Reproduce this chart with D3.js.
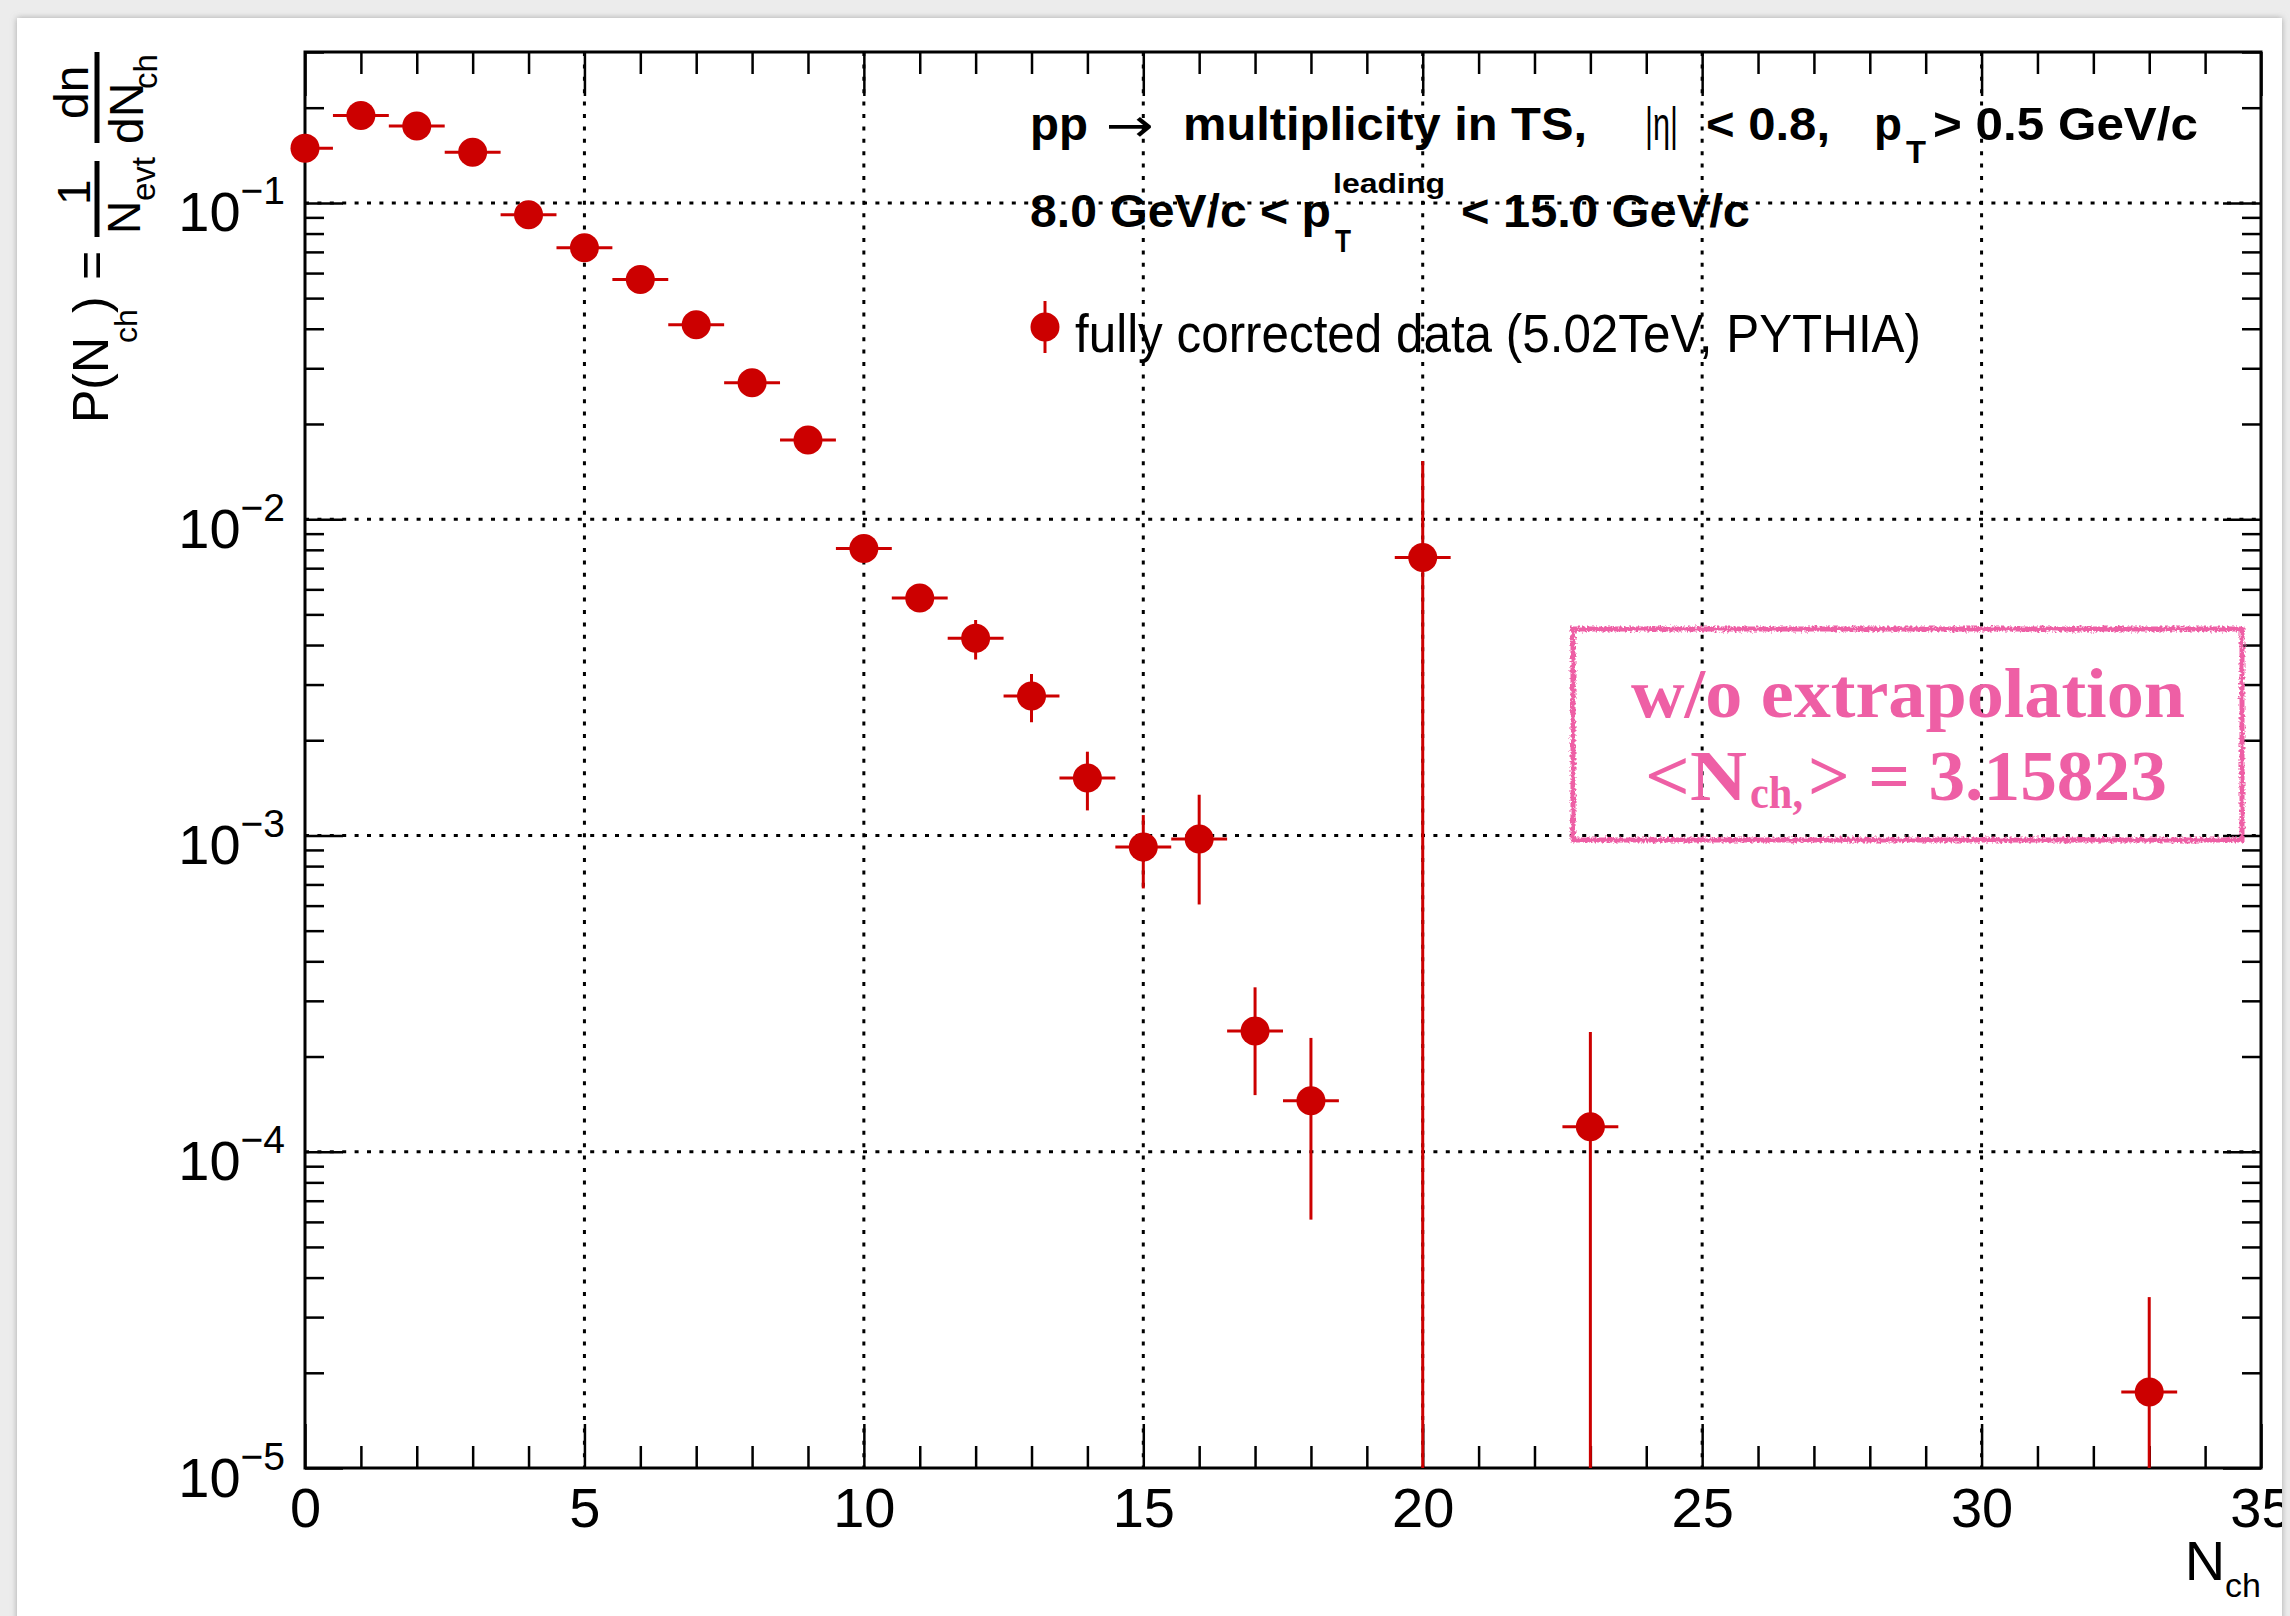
<!DOCTYPE html>
<html>
<head>
<meta charset="utf-8">
<script src="https://cdn.jsdelivr.net/npm/d3@7"></script>
<style>
  html, body { margin: 0; padding: 0; background: #ececec; }
  svg { display: block; }
  text { font-family: "Liberation Sans", Arial, Helvetica, sans-serif; }
</style>
</head>
<body>
<div id="chart"></div>
<script>
// multiplicity bins (N_ch) and measured probabilities
const nch = [0, 1, 2, 3, 4, 5, 6, 7, 8, 9, 10, 11, 12, 13, 14, 15, 16, 17, 18, 20, 23, 33];
const prob = [0.149, 0.189, 0.175, 0.1445, 0.0918, 0.0721, 0.0573, 0.0412, 0.0270, 0.0178,
              0.00808, 0.00563, 0.00420, 0.00276, 0.00152, 0.00092, 0.000975, 0.000241,
              0.000145, 0.00756, 0.000120, 0.0000174];
const probErr = [0.001, 0.001, 0.001, 0.001, 0.0008, 0.0007, 0.0006, 0.0005, 0.0004, 0.0003,
                 0.0006, 0.0005, 0.0006, 0.00048, 0.00032, 0.00024, 0.00037, 0.00009,
                 0.000084, 0.0077, 0.000119, 0.0000173];
const binHalfWidth = 0.5;

// axis ticks
const xTicks = [0, 5, 10, 15, 20, 25, 30, 35];
const xMinorTicks = d3.range(0, 36).filter(d => d % 5 !== 0);
const yDecades = [1e-5, 1e-4, 1e-3, 1e-2, 1e-1];
const yMinorTicks = [];
yDecades.forEach(dec => { for (let k = 2; k <= 9; k++) { const v = k * dec; if (v <= 0.3 + 1e-9) yMinorTicks.push(v); } });

const W = 2290, H = 1616;
const frame = { left: 305, right: 2261, top: 52, bottom: 1468 };
const red = '#cc0000', pink = '#ee5fa5';

const svg = d3.select('#chart').append('svg').attr('width', W).attr('height', H);
const defs = svg.append('defs');

defs.append('filter').attr('id', 'shadow').attr('x', '-2%').attr('y', '-2%').attr('width', '104%').attr('height', '104%')
  .append('feDropShadow').attr('dx', 0).attr('dy', 0).attr('stdDeviation', 3)
  .attr('flood-color', '#8a8a8a').attr('flood-opacity', 0.7);

const rough = defs.append('filter').attr('id', 'rough').attr('x', '-5%').attr('y', '-10%').attr('width', '110%').attr('height', '120%');
rough.append('feTurbulence').attr('type', 'fractalNoise').attr('baseFrequency', 0.4).attr('numOctaves', 2).attr('seed', 4).attr('result', 'n');
rough.append('feDisplacementMap').attr('in', 'SourceGraphic').attr('in2', 'n').attr('scale', 6);

defs.append('clipPath').attr('id', 'panelClip').append('rect')
  .attr('x', 17).attr('y', 18).attr('width', 2265).attr('height', H);
defs.append('clipPath').attr('id', 'plotClip').append('rect')
  .attr('x', frame.left).attr('y', frame.top)
  .attr('width', frame.right - frame.left).attr('height', frame.bottom - frame.top);

// white window panel
svg.append('rect').attr('x', 17).attr('y', 18).attr('width', 2265).attr('height', H + 20)
  .attr('fill', '#fff').attr('filter', 'url(#shadow)');

const g = svg.append('g').attr('clip-path', 'url(#panelClip)');

const x = d3.scaleLinear().domain([0, 35]).range([frame.left, frame.right]);
const y = d3.scaleLog().domain([1e-5, 0.3]).range([frame.bottom, frame.top]);

// dotted grid
const grid = g.append('g').attr('stroke', '#000').attr('stroke-width', 3).attr('stroke-dasharray', '4 8.4');
grid.selectAll('.gx').data(xTicks.filter(d => d > 0 && d < 35)).enter().append('line')
  .attr('x1', d => x(d)).attr('x2', d => x(d)).attr('y1', frame.top).attr('y2', frame.bottom);
grid.selectAll('.gy').data(yDecades.filter(d => d > 1e-5)).enter().append('line')
  .attr('y1', d => y(d)).attr('y2', d => y(d)).attr('x1', frame.left).attr('x2', frame.right);

// axes with ticks on all four sides (inside)
function styleAxis(sel) {
  sel.select('.domain').remove();
  sel.attr('font-family', '"Liberation Sans", Arial, Helvetica, sans-serif').attr('font-size', 56);
  sel.selectAll('line').attr('stroke', '#000').attr('stroke-width', 2.5);
  sel.selectAll('text').attr('fill', '#000');
  return sel;
}
const axes = g.append('g');
axes.append('g').attr('transform', `translate(0,${frame.bottom})`)
  .call(d3.axisBottom(x).tickValues(xTicks).tickSize(-44).tickPadding(19).tickFormat(d3.format('d'))).call(styleAxis);
axes.append('g').attr('transform', `translate(0,${frame.bottom})`)
  .call(d3.axisBottom(x).tickValues(xMinorTicks).tickSize(-22).tickFormat('')).call(styleAxis);
axes.append('g').attr('transform', `translate(0,${frame.top})`)
  .call(d3.axisTop(x).tickValues(xTicks).tickSize(-44).tickFormat('')).call(styleAxis);
axes.append('g').attr('transform', `translate(0,${frame.top})`)
  .call(d3.axisTop(x).tickValues(xMinorTicks).tickSize(-22).tickFormat('')).call(styleAxis);

const gyl = axes.append('g').attr('transform', `translate(${frame.left},0)`)
  .call(d3.axisLeft(y).tickValues(yDecades).tickSize(-38).tickFormat('')).call(styleAxis);
gyl.selectAll('.tick text').each(function (d) {
  const t = d3.select(this).attr('x', -20).attr('y', 28).attr('dy', null).attr('text-anchor', 'end');
  t.append('tspan').text('10');
  t.append('tspan').attr('dy', -27).attr('font-size', 39).text('\u2212' + Math.round(-Math.log10(d)));
});
axes.append('g').attr('transform', `translate(${frame.left},0)`)
  .call(d3.axisLeft(y).tickValues(yMinorTicks).tickSize(-19).tickFormat('')).call(styleAxis);
axes.append('g').attr('transform', `translate(${frame.right},0)`)
  .call(d3.axisRight(y).tickValues(yDecades).tickSize(-38).tickFormat('')).call(styleAxis);
axes.append('g').attr('transform', `translate(${frame.right},0)`)
  .call(d3.axisRight(y).tickValues(yMinorTicks).tickSize(-19).tickFormat('')).call(styleAxis);

// frame
g.append('rect').attr('x', frame.left).attr('y', frame.top)
  .attr('width', frame.right - frame.left).attr('height', frame.bottom - frame.top)
  .attr('fill', 'none').attr('stroke', '#000').attr('stroke-width', 3);

// data points
const pts = nch.map((n, i) => ({ n: n, v: prob[i], e: probErr[i] }));
const bars = g.append('g').attr('clip-path', 'url(#plotClip)').attr('stroke', red).attr('stroke-width', 3);
bars.selectAll('.hx').data(pts).enter().append('line')
  .attr('x1', d => x(d.n - binHalfWidth)).attr('x2', d => x(d.n + binHalfWidth))
  .attr('y1', d => y(d.v)).attr('y2', d => y(d.v));
bars.selectAll('.vy').data(pts).enter().append('line')
  .attr('x1', d => x(d.n)).attr('x2', d => x(d.n))
  .attr('y1', d => y(d.v + d.e)).attr('y2', d => Math.min(y(Math.max(d.v - d.e, 1e-8)), frame.bottom + 10));
g.append('g').selectAll('circle').data(pts).enter().append('circle')
  .attr('cx', d => x(d.n)).attr('cy', d => y(d.v)).attr('r', 14.5).attr('fill', red);

// text helper
function txt(parent, str, px, py, size, o) {
  o = o || {};
  const t = parent.append('text').attr('x', px).attr('y', py).attr('font-size', size)
    .attr('fill', o.fill || '#000').attr('font-weight', o.bold ? 'bold' : 'normal')
    .attr('text-anchor', o.anchor || 'start').text(str);
  if (o.family) t.style('font-family', o.family);
  if (o.len) t.attr('textLength', o.len).attr('lengthAdjust', 'spacingAndGlyphs');
  return t;
}

// header lines
const hdr = g.append('g');
txt(hdr, 'pp', 1030, 140, 47, { bold: true, len: 58 });
txt(hdr, '\u2192', 1106, 141, 46, { len: 48, family: '"DejaVu Sans", sans-serif' });
txt(hdr, 'multiplicity in TS,', 1183, 140, 47, { bold: true, len: 404 });
txt(hdr, '|\u03b7|', 1645, 140, 47, { len: 33 });
txt(hdr, '< 0.8,', 1706, 140, 47, { bold: true, len: 124 });
txt(hdr, 'p', 1874, 140, 47, { bold: true, len: 28 });
txt(hdr, 'T', 1906, 163, 31, { bold: true, len: 20 });
txt(hdr, '> 0.5 GeV/c', 1933, 140, 47, { bold: true, len: 265 });
txt(hdr, '8.0 GeV/c < p', 1030, 227, 47, { bold: true, len: 301 });
txt(hdr, 'leading', 1333, 193, 27, { bold: true, len: 112 });
txt(hdr, 'T', 1335, 252, 31, { bold: true, len: 16 });
txt(hdr, '< 15.0 GeV/c', 1461, 227, 47, { bold: true, len: 289 });

// legend
const leg = g.append('g');
leg.append('line').attr('x1', 1045).attr('x2', 1045).attr('y1', 301).attr('y2', 353)
  .attr('stroke', red).attr('stroke-width', 3);
leg.append('circle').attr('cx', 1045).attr('cy', 327).attr('r', 14.5).attr('fill', red);
txt(leg, 'fully corrected data (5.02TeV, PYTHIA)', 1075, 352, 53, { len: 846 });

// annotation box
const box = g.append('g');
box.append('rect').attr('x', 1573).attr('y', 629).attr('width', 669).attr('height', 211)
  .attr('fill', 'none').attr('stroke', pink).attr('stroke-width', 5).attr('filter', 'url(#rough)');
const serif = '"Liberation Serif", "Times New Roman", serif';
txt(box, 'w/o extrapolation', 1631, 717, 70, { bold: true, fill: pink, family: serif, len: 554 });
txt(box, '<N', 1645, 800, 72, { bold: true, fill: pink, family: serif, len: 102 });
txt(box, 'ch,', 1750, 808, 46, { bold: true, fill: pink, family: serif, len: 53 });
txt(box, '> = 3.15823', 1808, 800, 72, { bold: true, fill: pink, family: serif, len: 359 });

// x axis title
const xt = g.append('text').attr('x', frame.right).attr('y', 1580).attr('text-anchor', 'end')
  .attr('font-size', 56).attr('fill', '#000');
xt.append('tspan').text('N');
xt.append('tspan').attr('dy', 17).attr('font-size', 34).text('ch');

// y axis title (rotated; local x = -screen y, local y = screen x)
const yt = g.append('g').attr('transform', 'rotate(-90)');
txt(yt, 'P(N', -423, 108, 50);
txt(yt, 'ch', -343, 137, 32);
txt(yt, ')', -313, 108, 50);
txt(yt, '=', -280, 108, 50);
yt.append('line').attr('x1', -237).attr('x2', -161).attr('y1', 97).attr('y2', 97).attr('stroke', '#000').attr('stroke-width', 5);
txt(yt, '1', -205, 90, 46);
txt(yt, 'N', -234, 140, 46);
txt(yt, 'evt', -201, 155, 33);
yt.append('line').attr('x1', -143).attr('x2', -52).attr('y1', 97).attr('y2', 97).attr('stroke', '#000').attr('stroke-width', 5);
txt(yt, 'dn', -119, 88, 48);
txt(yt, 'dN', -144, 143, 48);
txt(yt, 'ch', -89, 157, 33);
</script>
</body>
</html>
